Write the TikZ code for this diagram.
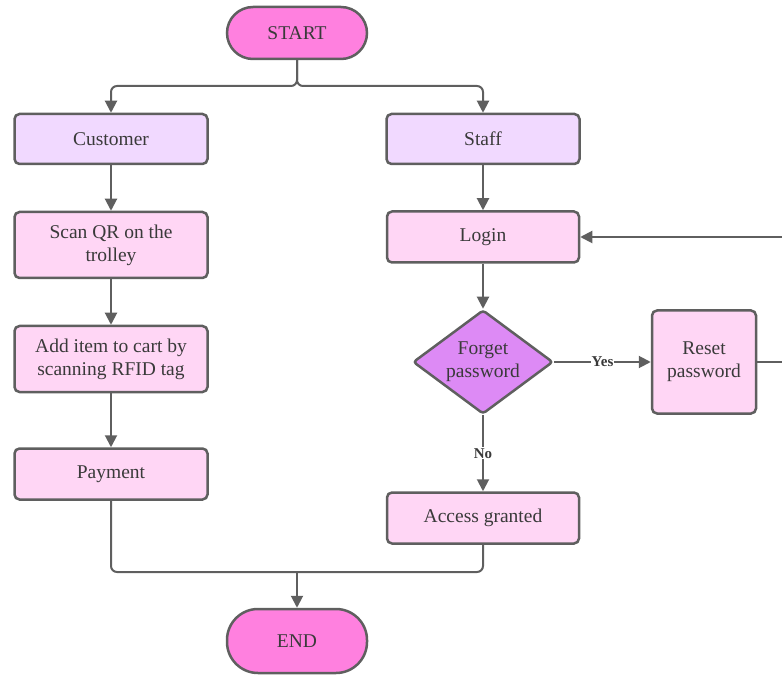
\documentclass[tikz,border=0pt]{standalone}
\usepackage{fontspec}
\setmainfont{Liberation Serif}
\usetikzlibrary{shapes.geometric, arrows.meta}
\definecolor{edge}{HTML}{5F5F5F}
\definecolor{termfill}{HTML}{FF80DF}
\definecolor{actorfill}{HTML}{F1D9FF}
\definecolor{procfill}{HTML}{FFD6F5}
\definecolor{decfill}{HTML}{DD8AF5}
\definecolor{txt}{HTML}{3A3A3A}

\begin{document}
\begin{tikzpicture}[x=1pt, y=-1pt,
  base/.style={draw=edge, line width=2.5pt, text=txt,
    font=\fontsize{19.5}{23}\selectfont, align=center, inner sep=0pt},
  terminal/.style={base, fill=termfill, minimum width=140pt, minimum height=52pt, rounded corners=26pt},
  actor/.style={base, fill=actorfill, minimum width=193pt, minimum height=50pt, rounded corners=5pt},
  proc/.style={base, fill=procfill, rounded corners=5pt},
  decision/.style={base, diamond, aspect=1.35, inner sep=-3pt, fill=decfill,
    minimum width=140pt, minimum height=104pt, rounded corners=3pt},
  link/.style={draw=edge, line width=2pt, -{Triangle[length=12pt, width=12pt]}},
  plain/.style={draw=edge, line width=2pt},
  tag/.style={fill=white, text=txt, font=\bfseries\fontsize{15}{17}\selectfont, inner sep=1pt}
]
\useasboundingbox (0,0) rectangle (782,676);

% terminals
\node[terminal] (start) at (297,33) {START};
\node[terminal, minimum height=64pt, rounded corners=31pt] (end) at (297,641) {END};

% customer branch
\node[actor] (customer) at (111,139) {Customer};
\node[proc, minimum width=193pt, minimum height=66pt] (scan) at (111,245) {Scan QR on the\\trolley};
\node[proc, minimum width=193pt, minimum height=66pt] (add) at (111,359) {Add item to cart by\\scanning RFID tag};
\node[proc, minimum width=193pt, minimum height=51pt] (pay) at (111,474) {Payment};

% staff branch
\node[actor] (staff) at (483,139) {Staff};
\node[proc, minimum width=192pt, minimum height=51pt] (login) at (483,237) {Login};
\node[decision] (forget) at (483,362) {Forget\\password};
\node[proc, minimum width=104pt, minimum height=103pt] (reset) at (704,362) {Reset\\password};
\node[proc, minimum width=192pt, minimum height=51pt] (access) at (483,518) {Access granted};

% helper points
\coordinate (split) at (297,86);
\coordinate (join) at (297,572);
\coordinate (loop) at (800,300);

% start split
\draw[link, rounded corners=6pt] (start.south) -- (split) -| (customer.north);
\draw[link, rounded corners=6pt] (start.south) -- (split) -| (staff.north);

% customer flow
\draw[link] (customer) -- (scan);
\draw[link] (scan) -- (add);
\draw[link] (add) -- (pay);

% staff flow
\draw[link] (staff) -- (login);
\draw[link] (login) -- (forget);
\draw[link] (forget.east) -- node[tag] {Yes} (reset.west);
\draw[link] (forget.south) -- node[tag] {No} (access.north);
\draw[link] (reset.east) -| (loop) |- (login.east);

% merge into end
\draw[plain, rounded corners=6pt] (pay.south) |- (join);
\draw[plain, rounded corners=6pt] (access.south) |- (join);
\draw[link] (join) -- (end.north);
\end{tikzpicture}
\end{document}
